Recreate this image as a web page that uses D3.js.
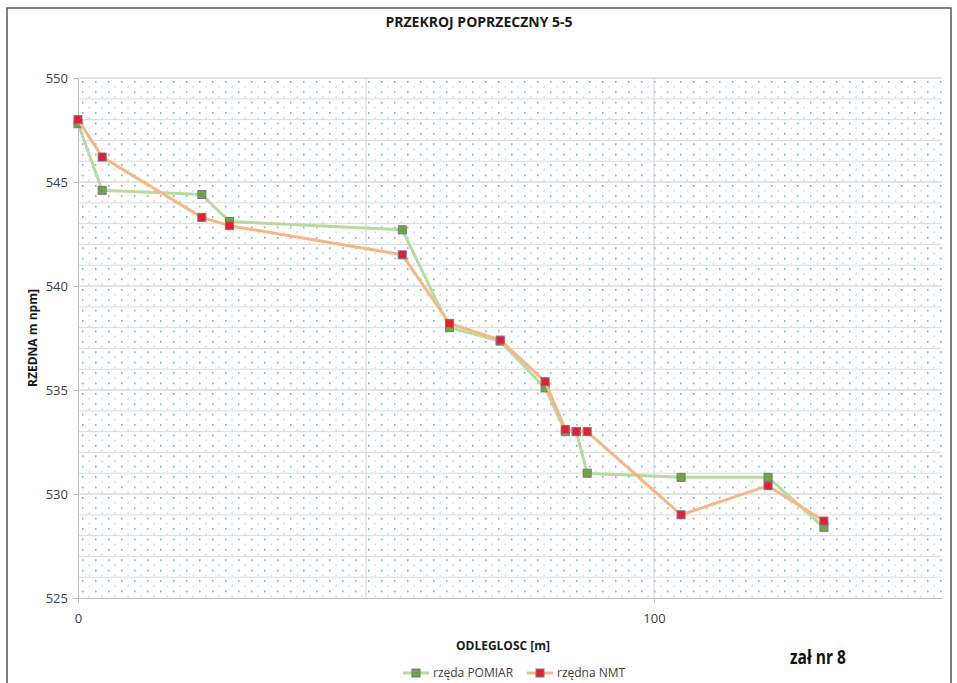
<!DOCTYPE html>
<html>
<head>
<meta charset="utf-8">
<script src="https://cdn.jsdelivr.net/npm/d3@7"></script>
<style>
  body { margin: 0; background: #fff; }
  text { font-family: "Open Sans", "Liberation Sans", sans-serif; }
</style>
</head>
<body>
<svg id="chart" width="957" height="683"></svg>
<script>
// odleglosc [m] / rzedna [m npm]
var pomiarX = [0, 4.2, 21.5, 26.3, 56.3, 64.5, 73.3, 81.1, 84.6, 86.5, 88.4, 104.7, 119.8, 129.5];
var pomiarY = [547.8, 544.6, 544.4, 543.1, 542.7, 538.0, 537.35, 535.1, 533.0, 533.0, 531.0, 530.8, 530.8, 528.4];
var nmtX = [0, 4.2, 21.5, 26.3, 56.3, 64.5, 73.3, 81.1, 84.6, 86.5, 88.4, 104.7, 119.8, 129.5];
var nmtY = [548.0, 546.2, 543.3, 542.9, 541.5, 538.2, 537.4, 535.4, 533.1, 533.0, 533.0, 529.0, 530.4, 528.7];
var yTicks = [525, 530, 535, 540, 545, 550];
var xTicks = [0, 100];
var seriesNames = ["rzęda POMIAR", "rzędna NMT"];

const svg = d3.select("#chart");
const pLeft = 78, pRight = 942, pTop = 78, pBottom = 598;

const x = d3.scaleLinear().domain([0, 150]).range([pLeft, pRight]);
const y = d3.scaleLinear().domain([525, 550]).range([pBottom, pTop]);

// outer frame
svg.append("rect").attr("x", 7).attr("y", 8).attr("width", 944).attr("height", 690)
    .attr("fill", "#fff").attr("stroke", "#555").attr("stroke-width", 1.5);

// dotted fill
const defs = svg.append("defs");
const pat = defs.append("pattern").attr("id", "dots")
    .attr("patternUnits", "userSpaceOnUse").attr("width", 13).attr("height", 10.4)
    .attr("x", pLeft + 4).attr("y", pTop + 3);
pat.append("rect").attr("x", 0).attr("y", 0).attr("width", 1.5).attr("height", 1.5).attr("fill", "#6b9bd6");
pat.append("rect").attr("x", 6.5).attr("y", 5.2).attr("width", 1.2).attr("height", 1.2).attr("fill", "#9ab9e3");

svg.append("rect").attr("x", pLeft).attr("y", pTop).attr("width", pRight - pLeft).attr("height", pBottom - pTop)
    .attr("fill", "url(#dots)");

// grid
svg.append("g").selectAll("line").data(d3.range(526, 551, 1)).join("line")
    .attr("x1", pLeft).attr("x2", pRight)
    .attr("y1", d => y(d)).attr("y2", d => y(d))
    .attr("stroke", d => d % 5 === 0 ? "#c8c8c8" : "#dcdcdc").attr("stroke-width", 1);
svg.append("g").selectAll("line").data([50, 100]).join("line")
    .attr("x1", d => x(d)).attr("x2", d => x(d))
    .attr("y1", pTop).attr("y2", pBottom)
    .attr("stroke", "#d4d4d4");

// axes
const yAxis = svg.append("g").attr("transform", `translate(${pLeft},0)`)
    .call(d3.axisLeft(y).tickValues(yTicks).tickSize(5).tickSizeOuter(0).tickPadding(5));
const xAxis = svg.append("g").attr("transform", `translate(0,${pBottom})`)
    .call(d3.axisBottom(x).tickValues(xTicks).tickSize(5).tickSizeOuter(0).tickPadding(11));
[yAxis, xAxis].forEach(g => {
    g.selectAll("path, line").attr("stroke", "#bfbfbf");
    g.selectAll("text").attr("font-size", 13).attr("fill", "#404040")
        .attr("font-family", "'Open Sans', sans-serif");
});

// series
function drawSeries(xs, ys, lineColor, fill) {
    const pts = xs.map((d, i) => [d, ys[i]]);
    svg.append("path").datum(pts)
        .attr("fill", "none").attr("stroke", lineColor).attr("stroke-width", 3)
        .attr("stroke-linejoin", "round")
        .attr("d", d3.line().x(d => x(d[0])).y(d => y(d[1])));
    svg.append("g").selectAll("rect").data(pts).join("rect")
        .attr("x", d => x(d[0]) - 4).attr("y", d => y(d[1]) - 4)
        .attr("width", 8).attr("height", 8)
        .attr("fill", fill).attr("stroke", "#7a6f9f").attr("stroke-width", 1);
}
drawSeries(pomiarX, pomiarY, "#b6dba0", "#6aaa3a");
drawSeries(nmtX, nmtY, "#f7b783", "#e5202e");

// titles
svg.append("text").attr("x", 479).attr("y", 27).attr("text-anchor", "middle")
    .attr("font-size", 14).attr("font-weight", "bold").attr("fill", "#1a1a1a")
    .text("PRZEKROJ POPRZECZNY 5-5");
svg.append("text").attr("transform", "translate(37,338) rotate(-90)").attr("text-anchor", "middle")
    .attr("font-size", 12).attr("font-weight", "bold").attr("fill", "#1a1a1a")
    .text("RZEDNA m npm]");
svg.append("text").attr("x", 503).attr("y", 650).attr("text-anchor", "middle")
    .attr("font-size", 12).attr("font-weight", "bold").attr("fill", "#1a1a1a")
    .text("ODLEGLOSC [m]");
svg.append("text").attr("x", 790).attr("y", 664)
    .attr("font-size", 19).attr("font-weight", "bold").attr("fill", "#111")
    .attr("textLength", 56).attr("lengthAdjust", "spacingAndGlyphs")
    .text("zał nr 8");

// legend
const legend = [
    {name: seriesNames[0], line: "#b6dba0", fill: "#6aaa3a", x0: 403},
    {name: seriesNames[1], line: "#f7b783", fill: "#e5202e", x0: 527}
];
const lg = svg.append("g").selectAll("g").data(legend).join("g")
    .attr("transform", d => `translate(${d.x0},673)`);
lg.append("line").attr("x1", 0).attr("x2", 26).attr("stroke", d => d.line).attr("stroke-width", 3);
lg.append("rect").attr("x", 9).attr("y", -4).attr("width", 8).attr("height", 8)
    .attr("fill", d => d.fill).attr("stroke", "#7a6f9f");
lg.append("text").attr("x", 30).attr("y", 4).attr("font-size", 12).attr("fill", "#404040")
    .text(d => d.name);
</script>
</body>
</html>
